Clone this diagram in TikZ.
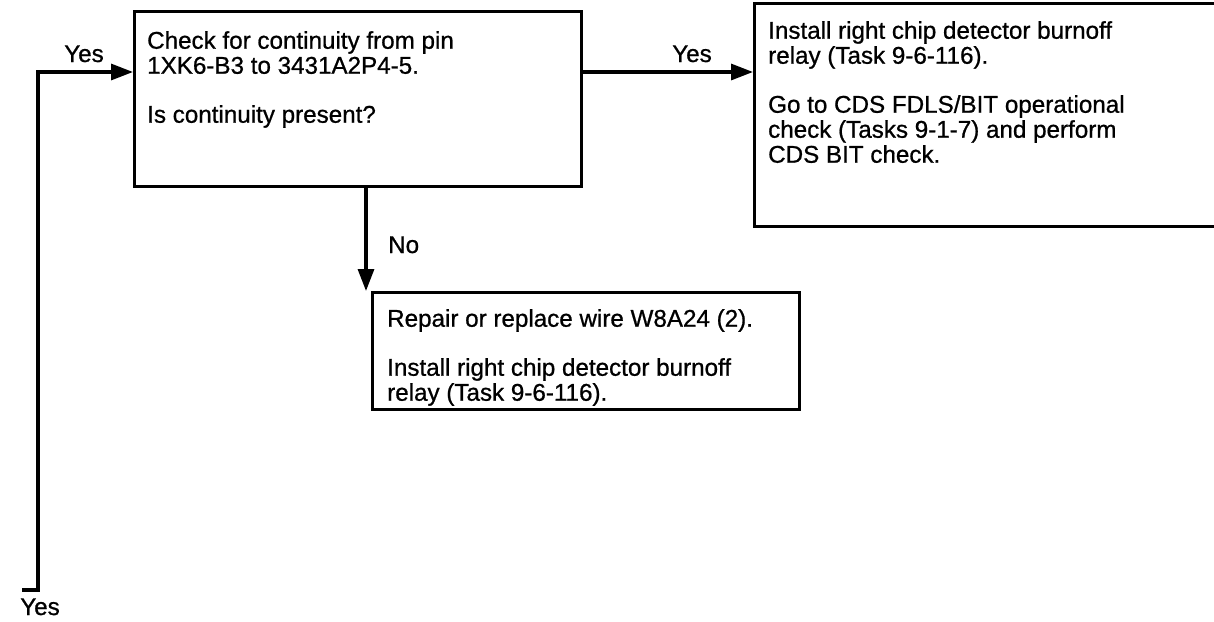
\documentclass[tikz,border=0pt]{standalone}
\usepackage{fontspec}
\setmainfont[FakeBold=0.8,BoldFont={Liberation Sans}]{Liberation Sans}
\usetikzlibrary{arrows.meta,calc}
\begin{document}
\begin{tikzpicture}[x=1pt,y=-1pt,
  box/.style={draw,line width=2.8pt,rectangle,inner sep=0pt,anchor=north west},
  txt/.style={inner sep=0pt,anchor=north west,align=left,font=\fontsize{24.2}{25}\selectfont\bfseries},
  lbl/.style={inner sep=0pt,anchor=base,font=\fontsize{24.2}{25}\selectfont\bfseries},
  conn/.style={line width=3.2pt,-{Triangle[length=22pt,width=16pt]}},
  plain/.style={line width=3.2pt}]
\useasboundingbox[fill=white] (0,0) rectangle (1214,621);
% boxes
\node[box,minimum width=447pt,minimum height=175pt] (A) at (133,10) {};
\node[box,minimum width=480pt,minimum height=223pt] (B) at (753,2) {};
\node[box,minimum width=427pt,minimum height=117pt] (C) at (371,291) {};
% texts
\node[txt] (Atxt) at (147,31) {Check for continuity from pin\\1XK6-B3 to 3431A2P4-5.\\[24pt]Is continuity present?};
\node[txt] (Btxt) at (768,21) {Install right chip detector burnoff\\relay (Task 9-6-116).\\[24pt]Go to CDS FDLS/BIT operational\\check (Tasks 9-1-7) and perform\\CDS BIT check.};
\node[txt] (Ctxt) at (387,309) {Repair or replace wire W8A24 (2).\\[24pt]Install right chip detector burnoff\\relay (Task 9-6-116).};
% connectors
\coordinate (stub) at (22,590);
\coordinate (corner) at (38,590);
\coordinate (ain) at ($(A.north west)+(0,62)$);
\draw[conn] (stub) -- (corner) |- (ain);
\coordinate (aout) at ($(A.north east)+(0,62)$);
\draw[conn] (aout) -- (aout -| B.west);
\coordinate (adown) at ($(A.south west)+(233,0)$);
\draw[conn] (adown) -- (adown |- C.north);
% labels
\node[lbl] (y1) at (84,62) {Yes};
\node[lbl] (y2) at (692,62) {Yes};
\node[lbl,anchor=base west] (no) at (388,253) {No};
\node[lbl] (y3) at (40,615) {Yes};
\end{tikzpicture}
\end{document}
